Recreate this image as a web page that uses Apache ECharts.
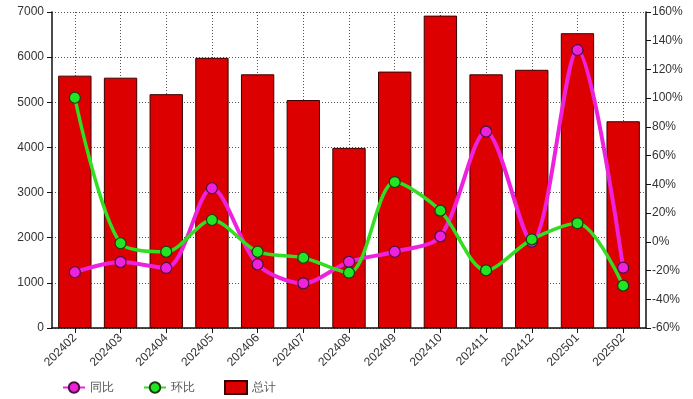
<!DOCTYPE html>
<html>
<head>
<meta charset="utf-8">
<script src="https://cdn.jsdelivr.net/npm/echarts@6/dist/echarts.min.js"></script>
<style>
  html, body { margin: 0; padding: 0; background: #fff; }
  #chart { width: 693px; height: 399px; }
</style>
</head>
<body>
<div id="chart"></div>
<script>
// monthly totals with year-on-year and month-on-month change
const months = ['202402', '202403', '202404', '202405', '202406', '202407', '202408',
  '202409', '202410', '202411', '202412', '202501', '202502']
const total = [5590, 5545, 5180, 5985, 5620, 5050, 3990, 5680, 6920, 5620, 5720, 6530, 4580]
const yoy = [-21.2, -14.1, -18.2, 37.3, -15.7, -28.9, -13.9, -6.9, 3.8, 76.7, 0.1, 133.5, -18.0]
const mom = [100.3, -1.0, -6.9, 15.2, -6.9, -11.1, -21.5, 41.6, 21.7, -19.9, 1.7, 12.9, -30.5]

const font = 'Liberation Sans, Arial, sans-serif'
const tickLabel = { color: '#333', fontSize: 12, fontFamily: font }
const axisLine = { show: true, lineStyle: { color: '#111', width: 1.5 } }
const tick = { show: true, length: 5, lineStyle: { color: '#111' } }
const grid = { lineStyle: { color: '#555', type: [1, 2], width: 1 } }

const chart = echarts.init(document.getElementById('chart'), null, { renderer: 'canvas' })
chart.setOption({
  animation: false,
  backgroundColor: '#fff',
  grid: { left: 52, right: 47, top: 12, bottom: 71 },
  legend: {
    left: 57, top: 375, itemGap: 29, itemWidth: 22, itemHeight: 13,
    textStyle: { color: '#555', fontSize: 12, fontFamily: font },
    data: ['同比', '环比', { name: '总计', icon: 'rect' }],
  },
  xAxis: {
    type: 'category', data: months,
    axisLine, axisTick: { ...tick, alignWithLabel: true },
    axisLabel: { ...tickLabel, rotate: 45, margin: 8 },
    splitLine: { show: true, alignWithLabel: true, ...grid },
  },
  yAxis: [
    {
      type: 'value', min: 0, max: 7000, interval: 1000,
      axisLine, axisTick: tick,
      axisLabel: { ...tickLabel, margin: 8, formatter: v => String(v) },
      splitLine: { show: true, ...grid },
    },
    {
      type: 'value', min: -60, max: 160, interval: 20, position: 'right',
      axisLine, axisTick: tick,
      axisLabel: { ...tickLabel, margin: 6, formatter: v => v + '%' },
      splitLine: { show: false },
    },
  ],
  series: [
    {
      name: '总计', type: 'bar', data: total, barCategoryGap: '27%', z: 1,
      itemStyle: { color: '#dc0000', borderColor: '#3a0000', borderWidth: 1 },
    },
    {
      name: '同比', type: 'line', yAxisIndex: 1, data: yoy, smooth: 0.3, z: 3,
      symbol: 'circle', symbolSize: 11,
      lineStyle: { color: '#ee22dd', width: 4 },
      itemStyle: { color: '#ee22dd', borderColor: '#4a1040', borderWidth: 1.2 },
    },
    {
      name: '环比', type: 'line', yAxisIndex: 1, data: mom, smooth: 0.3, z: 4,
      symbol: 'circle', symbolSize: 11,
      lineStyle: { color: '#33dd22', width: 3.5 },
      itemStyle: { color: '#22e622', borderColor: '#1a3a10', borderWidth: 1.2 },
    },
  ],
})
</script>
</body>
</html>
